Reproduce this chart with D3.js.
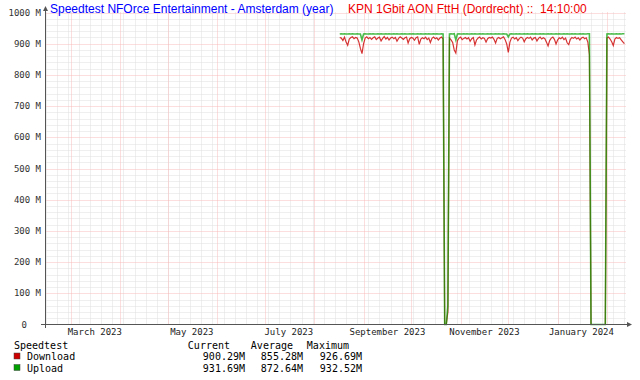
<!DOCTYPE html>
<html lang="en">
  <head>
    <meta charset="UTF-8" />
    <title>Speedtest NFOrce Entertainment - Amsterdam (year)</title>
    <script src="https://d3js.org/d3.v7.min.js"></script>
    <style>
      body { margin: 0; background: #fff; }
      .mono { font-family: "DejaVu Sans Mono", monospace; }
    </style>
  </head>
  <body>
    <div id="chart"></div>
    <script>
      // daily samples, first one on 2023-08-17
      const startDay = "2023-08-17";
      const download = [
        920, 918, 910, 921, 905, 895, 915, 920, 922, 916,
        920, 918, 906, 885, 868, 900, 918, 922, 916, 920,
        914, 919, 922, 913, 918, 921, 909, 917, 923, 915,
        920, 912, 918, 921, 916, 920, 908, 917, 922, 918,
        914, 919, 921, 902, 916, 920, 918, 911, 919, 922,
        898, 915, 919, 916, 921, 913, 918, 904, 917, 921,
        916, 919, 912, 918, 921, 915, 0, 0, 40, 918,
        912, 904, 880, 870, 910, 918, 921, 913, 917, 920,
        915, 919, 908, 916, 920, 896, 912, 918, 921, 915,
        919, 917, 905, 916, 920, 918, 921, 914, 902, 917,
        920, 916, 919, 922, 913, 899, 872, 905, 918, 921,
        915, 919, 910, 917, 921, 918, 906, 916, 920, 917,
        921, 912, 918, 920, 909, 917, 921, 915, 919, 916,
        905, 893, 910, 918, 921, 914, 899, 912, 919, 916,
        921, 913, 918, 903, 897, 914, 920, 917, 921, 915,
        919, 912, 918, 921, 916, 919, 905, 865, 0, 0,
        0, 0, 0, 0, 0, 0, 0, 0, 918, 921,
        915, 906, 894, 915, 920, 917, 919, 912, 906, 900
      ];
      const upload = [
        931, 932, 931, 932, 931, 931, 932, 931, 932, 931,
        931, 932, 931, 931, 912, 931, 932, 931, 931, 932,
        931, 932, 931, 931, 932, 931, 932, 931, 931, 932,
        931, 932, 931, 931, 932, 931, 932, 931, 931, 932,
        931, 932, 931, 931, 932, 931, 932, 931, 931, 932,
        931, 932, 931, 931, 932, 931, 932, 931, 931, 932,
        931, 932, 931, 931, 932, 931, 0, 0, 60, 931,
        932, 931, 932, 912, 931, 932, 931, 931, 932, 931,
        932, 931, 931, 932, 931, 932, 931, 931, 932, 931,
        932, 931, 931, 932, 931, 932, 931, 931, 932, 931,
        932, 931, 931, 932, 931, 931, 922, 931, 932, 931,
        931, 932, 931, 932, 931, 931, 932, 931, 932, 931,
        931, 932, 931, 932, 931, 931, 932, 931, 932, 931,
        931, 932, 931, 932, 931, 931, 932, 931, 932, 931,
        931, 932, 931, 932, 931, 931, 932, 931, 932, 931,
        931, 932, 931, 932, 931, 931, 932, 932, 0, 0,
        0, 0, 0, 0, 0, 0, 0, 0, 931, 932,
        931, 932, 931, 931, 932, 931, 932, 931, 932, 932
      ];
      const yTicks = [0, 100, 200, 300, 400, 500, 600, 700, 800, 900, 1000];
      const monthLabels = ["March 2023", "May 2023", "July 2023", "September 2023", "November 2023", "January 2024"];
      const monthLabelDates = ["2023-03-16", "2023-05-16", "2023-07-16", "2023-09-16", "2023-11-16", "2024-01-16"];
      const seriesNames = ["Download", "Upload"];
      const seriesColors = ["#cc0000", "#00a000"];
      const legendCurrent = ["900.29M", "931.69M"];
      const legendAverage = ["855.28M", "872.64M"];
      const legendMaximum = ["926.69M", "932.52M"];

      const W = 640, H = 380;
      const parse = d3.timeParse("%Y-%m-%d");
      const day0 = parse(startDay);
      const toRows = (arr) => arr.map((v, i) => ({ date: d3.timeDay.offset(day0, i), value: v }));
      const series = [toRows(download), toRows(upload)];

      const x = d3.scaleTime()
        .domain([parse("2023-02-13"), parse("2024-02-13")])
        .range([45.5, 626]);
      const y = d3.scaleLinear().domain([0, 1000]).range([324.5, 12.5]);

      const svg = d3.select("#chart").append("svg")
        .attr("width", W).attr("height", H)
        .style("background", "#fff");

      const grid = svg.append("g");
      const [x0, x1] = x.range();
      const minorColor = "#dedede", majorColor = "#f8bcbc";

      // minor grid
      d3.range(0, 1001, 20).filter((v) => v % 100 !== 0).forEach((v) => {
        grid.append("line").attr("x1", x0).attr("x2", x1)
          .attr("y1", Math.round(y(v)) + 0.5).attr("y2", Math.round(y(v)) + 0.5)
          .attr("stroke", minorColor).attr("stroke-dasharray", "1,1");
      });
      d3.timeMonday.range(...x.domain()).forEach((d) => {
        const px = Math.round(x(d)) + 0.5;
        grid.append("line").attr("x1", px).attr("x2", px)
          .attr("y1", y(1000)).attr("y2", y(0))
          .attr("stroke", minorColor).attr("stroke-dasharray", "1,1");
      });
      // major grid
      yTicks.filter((v) => v > 0).forEach((v) => {
        grid.append("line").attr("x1", x0).attr("x2", x1)
          .attr("y1", Math.round(y(v)) + 0.5).attr("y2", Math.round(y(v)) + 0.5)
          .attr("stroke", majorColor).attr("stroke-dasharray", "1,1");
      });
      d3.timeMonth.range(...x.domain()).forEach((d) => {
        const px = Math.round(x(d)) + 0.5;
        grid.append("line").attr("x1", px).attr("x2", px)
          .attr("y1", y(1000)).attr("y2", y(0))
          .attr("stroke", majorColor).attr("stroke-dasharray", "1,1");
      });

      // lines
      const line = d3.line().x((d) => x(d.date)).y((d) => y(d.value));
      series.forEach((s, i) => {
        svg.append("path").datum(s)
          .attr("fill", "none")
          .attr("stroke", seriesColors[i])
          .attr("stroke-opacity", i === 1 ? 0.7 : 0.8)
          .attr("stroke-width", i === 1 ? 1.6 : 1.2)
          .attr("d", line);
      });

      // axes
      svg.append("line").attr("x1", 41).attr("x2", 628).attr("y1", 324.5).attr("y2", 324.5)
        .attr("stroke", "#555");
      svg.append("path").attr("d", "M627,322 L632,324.5 L627,327 Z").attr("fill", "#555");
      svg.append("line").attr("x1", 45.5).attr("x2", 45.5).attr("y1", 328).attr("y2", 10)
        .attr("stroke", "#555");
      svg.append("path").attr("d", "M43,11 L45.5,6 L48,11 Z").attr("fill", "#555");

      // y labels
      svg.append("g").selectAll("text").data(yTicks).join("text")
        .attr("class", "mono")
        .attr("x", (d) => (d === 0 ? 27 : 41))
        .attr("y", (d) => y(d) + 3)
        .attr("text-anchor", "end")
        .attr("font-size", 9)
        .attr("fill", "#333")
        .text((d) => (d === 0 ? "0" : d + " M"));

      // x labels
      svg.append("g").selectAll("text").data(monthLabels).join("text")
        .attr("class", "mono")
        .attr("x", (d, i) => x(parse(monthLabelDates[i])))
        .attr("y", 335)
        .attr("text-anchor", "middle")
        .attr("font-size", 9)
        .attr("fill", "#222")
        .text((d) => d);

      // titles
      svg.append("text").attr("x", 50).attr("y", 13)
        .attr("font-family", "Liberation Sans, Arial, sans-serif").attr("font-size", 12)
        .attr("fill", "#0000ff").text("Speedtest NFOrce Entertainment - Amsterdam (year)");
      svg.append("text").attr("x", 348).attr("y", 13)
        .attr("font-family", "Liberation Sans, Arial, sans-serif").attr("font-size", 12)
        .attr("fill", "#ee0000").attr("xml:space", "preserve")
        .text("KPN 1Gbit AON FttH (Dordrecht) ::  14:10:00");

      // legend
      const lg = svg.append("g").attr("class", "mono").attr("font-size", 10).attr("fill", "#000");
      lg.append("text").attr("x", 14).attr("y", 349).text("Speedtest");
      lg.append("text").attr("x", 230).attr("y", 349).attr("text-anchor", "end").text("Current");
      lg.append("text").attr("x", 293).attr("y", 349).attr("text-anchor", "end").text("Average");
      lg.append("text").attr("x", 349).attr("y", 349).attr("text-anchor", "end").text("Maximum");
      seriesNames.forEach((name, i) => {
        const yy = 360 + i * 11.5;
        lg.append("rect").attr("x", 14).attr("y", yy - 7).attr("width", 6).attr("height", 6)
          .attr("fill", seriesColors[i]).attr("stroke", "#444").attr("stroke-width", 0.5);
        lg.append("text").attr("x", 27).attr("y", yy).text(name);
        lg.append("text").attr("x", 245).attr("y", yy).attr("text-anchor", "end").text(legendCurrent[i]);
        lg.append("text").attr("x", 303).attr("y", yy).attr("text-anchor", "end").text(legendAverage[i]);
        lg.append("text").attr("x", 362).attr("y", yy).attr("text-anchor", "end").text(legendMaximum[i]);
      });
    </script>
  </body>
</html>
